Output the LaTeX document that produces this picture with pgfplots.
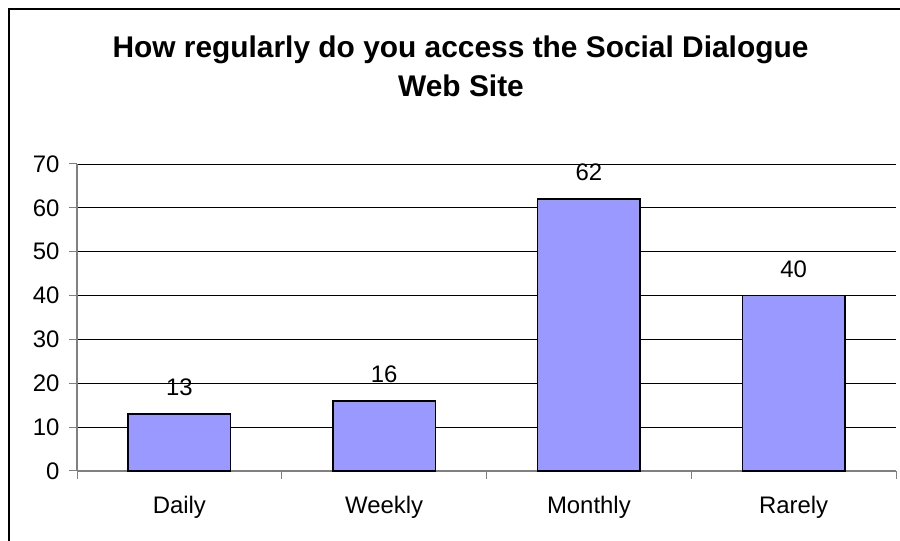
\documentclass[border=0pt]{standalone}
\usepackage{pgfplots}
\pgfplotsset{compat=1.18}
\usepackage{fontspec}
\setmainfont{Liberation Sans}
\definecolor{barblue}{HTML}{9999FF}
\definecolor{axgray}{HTML}{808080}
\begin{document}
\begin{tikzpicture}[x=1bp,y=1bp]
\useasboundingbox (0,0) rectangle (900,541);
\draw[line width=2bp] (9,-5) -- (9,532) -- (905,532);
\node[font=\fontsize{30}{35}\selectfont\bfseries, anchor=base, inner sep=0pt] at (460.5,483) {How regularly do you access the Social Dialogue};
\node[font=\fontsize{30}{35}\selectfont\bfseries, anchor=base, inner sep=0pt] at (461,444) {Web Site};
\begin{axis}[
  at={(77bp,70bp)}, anchor=south west,
  scale only axis, width=819bp, height=307bp,
  ymin=0, ymax=70, ytick={0,10,...,70},
  xmin=-0.5, xmax=3.5,
  xtick={0,1,2,3}, xticklabels={Daily,Weekly,Monthly,Rarely},
  minor xtick={-0.5,0.5,1.5,2.5,3.5},
  major x tick style={draw=none},
  minor x tick style={draw=axgray, line width=1bp},
  ytick style={draw=axgray, line width=1bp},
  tick align=outside, major tick length=8bp, minor tick length=8bp,
  axis x line*=bottom, axis y line*=left,
  axis line style={draw=axgray, line width=1.2bp, -},
  ymajorgrids, grid style={draw=black, line width=0.8bp},
  ticklabel style={font=\fontsize{24}{28}\selectfont},
  /pgf/number format/assume math mode=true,
  yticklabel style={xshift=-6bp},
  xticklabel style={yshift=-14bp},
  ybar, bar width=0.5,
  nodes near coords,
  every node near coord/.append style={font=\fontsize{24}{28}\selectfont, yshift=14bp},
  clip=false,
]
\addplot[fill=barblue, draw=black, line width=1.5bp] coordinates {(0,13) (1,16) (2,62) (3,40)};
\end{axis}
\end{tikzpicture}
\end{document}
